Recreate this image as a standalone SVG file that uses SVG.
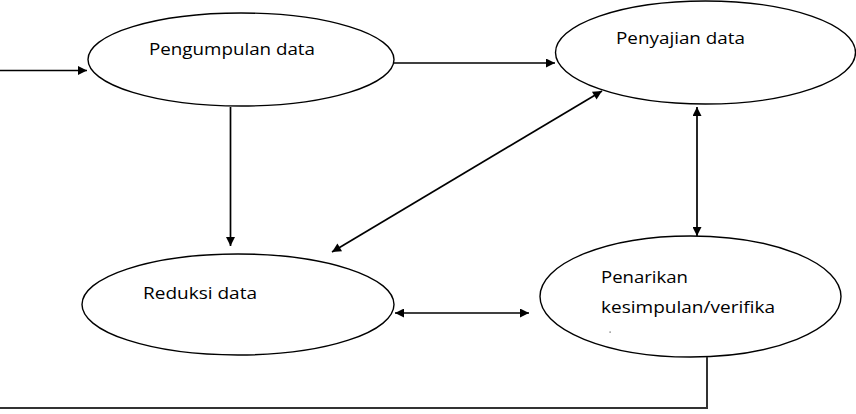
<svg xmlns="http://www.w3.org/2000/svg" width="856" height="414" viewBox="0 0 856 414">
<style>
.node ellipse{fill:#fff;stroke:#000;stroke-width:1.4}
.node text{font-family:"Open Sans","Liberation Sans",sans-serif;font-size:16.5px;fill:#000}
.conn line,.conn polyline{stroke:#000;stroke-width:1.7;fill:none}
</style>
<defs>
<marker id="ah" viewBox="0 0 10 10" refX="10" refY="5" markerWidth="11" markerHeight="9" markerUnits="userSpaceOnUse" orient="auto-start-reverse">
<path d="M0,0 L10,5 L0,10 Z" fill="#000"/>
</marker>
</defs>
<g id="n1" class="node">
<ellipse cx="241" cy="59.5" rx="153" ry="46.5"/>
<text x="149" y="55" textLength="166" lengthAdjust="spacingAndGlyphs">Pengumpulan data</text>
</g>
<g id="n2" class="node">
<ellipse cx="705.5" cy="52.5" rx="150" ry="51.5"/>
<text x="616" y="44" textLength="129" lengthAdjust="spacingAndGlyphs">Penyajian data</text>
</g>
<g id="n3" class="node">
<ellipse cx="238" cy="304.5" rx="156" ry="50.5"/>
<text x="143" y="299" textLength="114" lengthAdjust="spacingAndGlyphs">Reduksi data</text>
</g>
<g id="n4" class="node">
<ellipse cx="690.5" cy="296.5" rx="150.5" ry="60.5"/>
<text x="601" y="283" textLength="87" lengthAdjust="spacingAndGlyphs">Penarikan</text>
<text x="601" y="313" textLength="174" lengthAdjust="spacingAndGlyphs">kesimpulan/verifika</text>
<rect x="609.5" y="331.5" width="1.2" height="1.2" fill="#555"/>
</g>
<g id="connectors" class="conn">
<line x1="0" y1="70.5" x2="87" y2="70.5" marker-end="url(#ah)"/>
<line x1="394" y1="63" x2="555" y2="63" marker-end="url(#ah)"/>
<line x1="230.5" y1="107" x2="230.5" y2="246" marker-end="url(#ah)"/>
<line x1="332" y1="252" x2="602" y2="91" marker-start="url(#ah)" marker-end="url(#ah)"/>
<line x1="697" y1="107" x2="697" y2="236" marker-start="url(#ah)" marker-end="url(#ah)"/>
<line x1="395" y1="313" x2="529" y2="313" marker-start="url(#ah)" marker-end="url(#ah)"/>
<polyline points="707,357 707,408 0,408" style="stroke:#333;stroke-width:2"/>
</g>
</svg>
